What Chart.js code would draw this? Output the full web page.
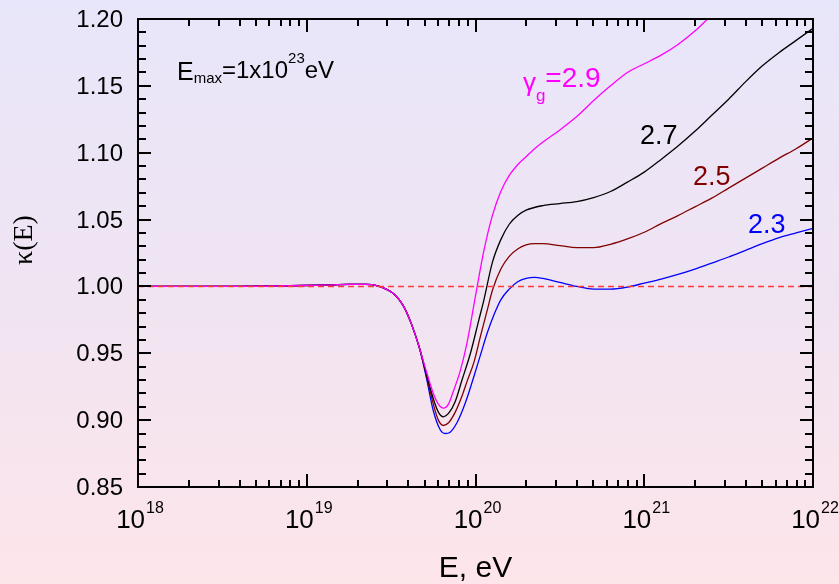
<!DOCTYPE html>
<html>
<head>
<meta charset="utf-8">
<title>kappa(E)</title>
<script src="https://cdn.jsdelivr.net/npm/chart.js@4"></script>
<style>
  html, body { margin: 0; padding: 0; }
  body {
    width: 839px; height: 584px; overflow: hidden;
    background: linear-gradient(to bottom, #e8e6fa 0%, #f0e4f2 50%, #fde5ea 100%);
  }
  canvas { display: block; }
</style>
</head>
<body>
<canvas id="kappa" width="839" height="584"></canvas>
<script>
// energies are kept as log10(E / eV); the low-energy part is shared by all four curves
const lgLow = [18.0, 18.5, 18.9, 19.1, 19.25, 19.35, 19.42, 19.47, 19.52, 19.57, 19.62, 19.67];
const kapLow = [1.0, 1.0, 1.0005, 1.001, 1.0015, 1.0015, 1.0005, 0.998, 0.994, 0.986, 0.972, 0.953];

const lgE29 = [19.71, 19.75, 19.78, 19.81, 19.84, 19.87, 19.91, 19.95, 20.0, 20.05, 20.1, 20.15, 20.2, 20.25, 20.3, 20.35, 20.4, 20.5, 20.6, 20.7, 20.8, 20.9, 21.0, 21.1, 21.2, 21.3, 21.4];
const kap29 = [0.936, 0.92, 0.912, 0.909, 0.912, 0.922, 0.937, 0.958, 0.993, 1.027, 1.053, 1.071, 1.083, 1.091, 1.097, 1.103, 1.108, 1.117, 1.127, 1.139, 1.15, 1.16, 1.1665, 1.173, 1.181, 1.191, 1.203];

const lgE27 = [19.71, 19.75, 19.78, 19.81, 19.84, 19.88, 19.92, 19.97, 20.02, 20.05, 20.1, 20.15, 20.2, 20.25, 20.3, 20.4, 20.5, 20.6, 20.7, 20.8, 20.9, 21.0, 21.1, 21.2, 21.3, 21.4, 21.5, 21.6, 21.7, 21.8, 21.9, 22.0];
const kap27 = [0.934, 0.916, 0.906, 0.9025, 0.905, 0.914, 0.93, 0.95, 0.975, 0.99, 1.018, 1.035, 1.0465, 1.053, 1.057, 1.0605, 1.062, 1.0635, 1.0665, 1.071, 1.078, 1.0855, 1.095, 1.105, 1.116, 1.128, 1.14, 1.153, 1.165, 1.175, 1.184, 1.193];

const lgE25 = [19.71, 19.75, 19.78, 19.81, 19.84, 19.88, 19.92, 19.95, 19.99, 20.03, 20.07, 20.1, 20.15, 20.2, 20.25, 20.3, 20.35, 20.4, 20.5, 20.6, 20.7, 20.8, 20.9, 21.0, 21.1, 21.2, 21.3, 21.4, 21.5, 21.6, 21.7, 21.8, 21.9, 22.0];
const kap25 = [0.933, 0.912, 0.9, 0.896, 0.898, 0.906, 0.918, 0.929, 0.943, 0.963, 0.9825, 0.997, 1.013, 1.0225, 1.028, 1.031, 1.032, 1.032, 1.0305, 1.029, 1.029, 1.0315, 1.0355, 1.0405, 1.047, 1.053, 1.0595, 1.066, 1.0735, 1.081, 1.0885, 1.096, 1.103, 1.111];

const lgE23 = [19.71, 19.75, 19.79, 19.82, 19.85, 19.89, 19.94, 19.99, 20.03, 20.07, 20.11, 20.15, 20.2, 20.25, 20.3, 20.35, 20.4, 20.5, 20.6, 20.7, 20.8, 20.9, 21.0, 21.1, 21.2, 21.3, 21.4, 21.5, 21.6, 21.7, 21.8, 21.9, 22.0];
const kap23 = [0.931, 0.907, 0.893, 0.89, 0.891, 0.898, 0.913, 0.9325, 0.949, 0.9653, 0.979, 0.99, 0.998, 1.0035, 1.006, 1.0068, 1.006, 1.003, 1.0, 0.998, 0.998, 0.9995, 1.0025, 1.0055, 1.009, 1.013, 1.0175, 1.022, 1.027, 1.032, 1.0365, 1.04, 1.0435];

const refLine = [1.0, 1.0];
const xDecades = [18, 19, 20, 21, 22];
const yTicks = [0.85, 0.90, 0.95, 1.00, 1.05, 1.10, 1.15, 1.20];

const SANS = '"Liberation Sans", Arial, sans-serif';
const SERIF = '"Liberation Serif", "Times New Roman", serif';

function toPoints(lg, k) {
  const all = lgLow.concat(lg);
  const vals = kapLow.concat(k);
  return all.map((v, i) => ({ x: Math.pow(10, v), y: vals[i] }));
}

function curve(lg, k, color) {
  return {
    data: toPoints(lg, k),
    borderColor: color,
    borderWidth: 1.3,
    pointRadius: 0,
    cubicInterpolationMode: 'monotone',
    fill: false
  };
}

// draws a run of text pieces (base, sub, sup) starting at x
function drawRun(ctx, parts, x, y) {
  parts.forEach((p) => {
    ctx.font = p.font;
    ctx.fillText(p.t, x, y + (p.dy || 0));
    x += ctx.measureText(p.t).width + (p.gap || 0);
  });
}

function runWidth(ctx, parts) {
  let w = 0;
  parts.forEach((p) => {
    ctx.font = p.font;
    w += ctx.measureText(p.t).width + (p.gap || 0);
  });
  return w;
}

const framePlugin = {
  id: 'frame',
  afterDraw(chart) {
    const ctx = chart.ctx;
    const xs = chart.scales.x;
    const ys = chart.scales.y;
    const a = chart.chartArea;

    ctx.save();
    ctx.strokeStyle = '#000';
    ctx.lineWidth = 2;
    ctx.strokeRect(a.left, a.top, a.right - a.left, a.bottom - a.top);

    // x ticks, bottom and top, pointing inward
    ctx.beginPath();
    for (let d = 18; d < 22; d++) {
      for (let m = 1; m <= 9; m++) {
        const px = Math.round(xs.getPixelForValue(m * Math.pow(10, d)));
        const len = m === 1 ? 13 : 7;
        ctx.moveTo(px, a.bottom); ctx.lineTo(px, a.bottom - len);
        ctx.moveTo(px, a.top); ctx.lineTo(px, a.top + len);
      }
    }
    // y ticks, left and right, every 0.01
    for (let i = 0; i <= 35; i++) {
      const v = 0.85 + i * 0.01;
      const py = Math.round(ys.getPixelForValue(v));
      const len = i % 5 === 0 ? 13 : 8;
      ctx.moveTo(a.left, py); ctx.lineTo(a.left + len, py);
      ctx.moveTo(a.right, py); ctx.lineTo(a.right - len, py);
    }
    ctx.stroke();

    ctx.fillStyle = '#000';
    ctx.textBaseline = 'alphabetic';

    // y tick labels
    ctx.font = '24px ' + SANS;
    ctx.textAlign = 'right';
    yTicks.forEach((v) => {
      ctx.fillText(v.toFixed(2), a.left - 15, ys.getPixelForValue(v) + 8);
    });

    // x tick labels as powers of ten
    ctx.textAlign = 'left';
    xDecades.forEach((d) => {
      const parts = [
        { t: '10', font: '26px ' + SANS, gap: 1 },
        { t: String(d), font: '16px ' + SANS, dy: -15 }
      ];
      const w = runWidth(ctx, parts);
      drawRun(ctx, parts, xs.getPixelForValue(Math.pow(10, d)) - w / 2 + 2, a.bottom + 41);
    });

    // axis titles
    ctx.font = '30px ' + SANS;
    ctx.textAlign = 'center';
    ctx.fillText('E, eV', (a.left + a.right) / 2, 577);

    ctx.save();
    ctx.translate(32, 240);
    ctx.rotate(-Math.PI / 2);
    ctx.font = '28px ' + SERIF;
    ctx.fillText('\u03BA(E)', 0, 0);
    ctx.restore();

    // annotations
    ctx.textAlign = 'left';
    const at = (lg, k) => [xs.getPixelForValue(Math.pow(10, lg)), ys.getPixelForValue(k)];

    let p = at(18.231, 1.1544);
    drawRun(ctx, [
      { t: 'E', font: '25px ' + SANS },
      { t: 'max', font: '15px ' + SANS, dy: 3 },
      { t: '=1x10', font: '24px ' + SANS, dy: -2 },
      { t: '23', font: '15px ' + SANS, dy: -17 },
      { t: 'eV', font: '24px ' + SANS, dy: -2 }
    ], p[0], p[1]);

    ctx.fillStyle = '#ff00ff';
    p = at(20.281, 1.149);
    drawRun(ctx, [
      { t: '\u03B3', font: '26px ' + SANS, dy: 4 },
      { t: 'g', font: '17px ' + SANS, dy: 14 },
      { t: '=2.9', font: '28px ' + SANS }
    ], p[0], p[1]);

    ctx.font = '27px ' + SANS;
    ctx.fillStyle = '#000000';
    p = at(20.975, 1.1066);
    ctx.fillText('2.7', p[0], p[1]);

    ctx.fillStyle = '#800000';
    p = at(21.289, 1.0759);
    ctx.fillText('2.5', p[0], p[1]);

    ctx.fillStyle = '#0000ff';
    p = at(21.615, 1.04);
    ctx.fillText('2.3', p[0], p[1]);

    ctx.restore();
  }
};

new Chart(document.getElementById('kappa'), {
  type: 'line',
  data: {
    datasets: [
      {
        data: [{ x: 1e18, y: refLine[0] }, { x: 1e22, y: refLine[1] }],
        borderColor: '#ff3a3a',
        borderWidth: 1.6,
        borderDash: [6, 4],
        pointRadius: 0
      },
      curve(lgE29, kap29, '#ff00ff'),
      curve(lgE27, kap27, '#000000'),
      curve(lgE25, kap25, '#800000'),
      curve(lgE23, kap23, '#0000ff')
    ]
  },
  options: {
    responsive: false,
    animation: false,
    layout: { padding: { left: 138, right: 26, top: 19, bottom: 97 } },
    scales: {
      x: { type: 'logarithmic', min: 1e18, max: 1e22, display: false },
      y: { type: 'linear', min: 0.85, max: 1.2, display: false }
    },
    plugins: {
      legend: { display: false },
      tooltip: { enabled: false }
    }
  },
  plugins: [framePlugin]
});
</script>
</body>
</html>
